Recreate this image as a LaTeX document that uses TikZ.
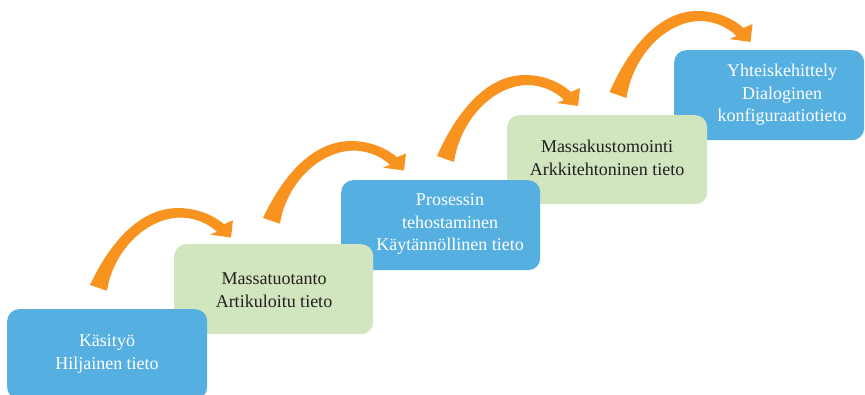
\documentclass[tikz,border=0pt]{standalone}
\usepackage{fontspec}
\setmainfont{Liberation Serif}
\definecolor{boxblue}{HTML}{56AFE1}
\definecolor{boxgreen}{HTML}{D1E5BF}
\definecolor{arroworange}{HTML}{F7931E}
\definecolor{darktext}{HTML}{231F20}
\begin{document}
\begin{tikzpicture}[x=1pt,y=-1pt,
  stagebox/.style={rounded corners=12pt, minimum height=#1, inner sep=0pt, anchor=north west},
  bluebox/.style={stagebox=90pt, fill=boxblue},
  greenbox/.style={stagebox=90pt, fill=boxgreen},
  whitelabel/.style={text=white, font=\fontsize{18}{22.5}\selectfont, align=center},
  darklabel/.style={text=darktext, font=\fontsize{18}{22.5}\selectfont, align=center},
  curvearrow/.pic={
    \fill[arroworange] (0,0) .. controls (20,-45) and (50,-81) .. (88,-81)
      .. controls (108,-81) and (124,-73) .. (134,-64)
      -- (143,-68) -- (141,-50) -- (120,-53) -- (127,-56)
      .. controls (117,-66) and (103,-71) .. (90,-71)
      .. controls (55,-70) and (23,-35) .. (17,6) -- cycle;
  }]
\useasboundingbox (0,0) rectangle (865,395);
\clip (0,0) rectangle (865,395);
% boxes, drawn from last to first so each earlier one lies on top
\node[bluebox, minimum width=190pt] (b5) at (674,50) {};
\node[greenbox, minimum width=200pt, minimum height=89pt] (b4) at (507,115) {};
\node[bluebox, minimum width=199pt] (b3) at (341,180) {};
\node[greenbox, minimum width=199pt] (b2) at (174,244) {};
\node[bluebox, minimum width=200pt, minimum height=90pt] (b1) at (7,309) {};
% texts
\node[whitelabel] (t5) at (782,95) {Yhteiskehittely\\Dialoginen\\konfiguraatiotieto};
\node[darklabel] (t4) at (607,158) {Massakustomointi\\Arkkitehtoninen tieto};
\node[whitelabel] (t3) at (450,224) {Prosessin\\tehostaminen\\Käytännöllinen tieto};
\node[darklabel] (t2) at (274,290) {Massatuotanto\\Artikuloitu tieto};
\node[whitelabel] (t1) at (107,354) {Käsityö\\Hiljainen tieto};
% curved arrows
\pic[yscale=0.95] (a1) at (90,285) {curvearrow};
\pic[yscale=0.95] (a2) at (263,218) {curvearrow};
\pic (a3) at (437,156) {curvearrow};
\pic (a4) at (609.5,92) {curvearrow};
\end{tikzpicture}
\end{document}
